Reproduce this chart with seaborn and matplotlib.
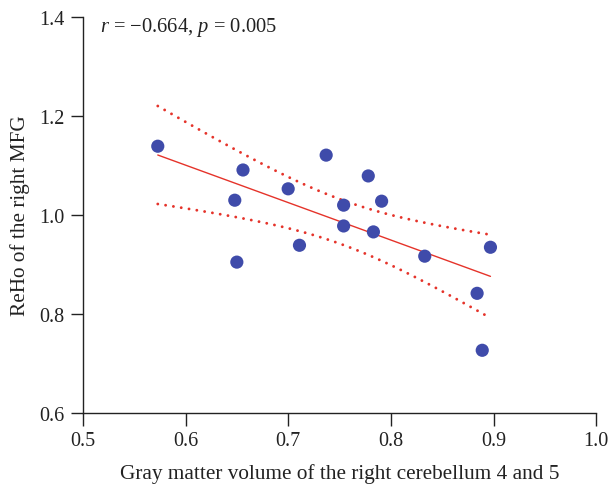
import numpy as np
import pandas as pd
import matplotlib
matplotlib.use("Agg")
import matplotlib.pyplot as plt
import seaborn as sns

# values
gmv = [0.573, 0.656, 0.648, 0.650, 0.700, 0.711, 0.737, 0.754,
       0.754, 0.778, 0.783, 0.791, 0.833, 0.897, 0.884, 0.889]
reho = [1.139, 1.091, 1.030, 0.905, 1.053, 0.939, 1.121, 1.020,
        0.978, 1.079, 0.966, 1.028, 0.917, 0.935, 0.842, 0.727]
x_ticks = [0.5, 0.6, 0.7, 0.8, 0.9, 1.0]
y_ticks = [0.6, 0.8, 1.0, 1.2, 1.4]
stat_text = r"$r$ = $-$0.664, $p$ = 0.005"

df = pd.DataFrame({"gmv": gmv, "reho": reho})

sns.set_theme(style="ticks")
plt.rcParams["font.family"] = ["Liberation Serif", "DejaVu Serif"]
plt.rcParams["mathtext.fontset"] = "custom"
plt.rcParams["mathtext.rm"] = "Liberation Serif"
plt.rcParams["mathtext.it"] = "Liberation Serif:italic"

point_col = "#3F4BAA"
line_col = "#E5332A"

fig = plt.figure(figsize=(6.09, 4.85), dpi=100)
ax = fig.add_axes([0.136, 0.146, 0.843, 0.817])

sns.regplot(data=df, x="gmv", y="reho", ci=None, ax=ax,
            scatter_kws=dict(s=90, color=point_col, edgecolor="none", alpha=1, zorder=3),
            line_kws=dict(color=line_col, lw=1.0))

# 95% confidence band for the fitted mean
x = np.array(gmv)
y = np.array(reho)
n = len(x)
b, a = np.polyfit(x, y, 1)
resid = y - (a + b * x)
s = np.sqrt(np.sum(resid ** 2) / (n - 2))
t_crit = 2.145  # t(0.975, df=14)
xs = np.linspace(x.min(), x.max(), 100)
se = s * np.sqrt(1 / n + (xs - x.mean()) ** 2 / np.sum((x - x.mean()) ** 2))
fit = a + b * xs
for band in (fit + t_crit * se, fit - t_crit * se):
    ax.plot(xs, band, color=line_col, lw=2.1, linestyle=(0, (0.01, 2.7)),
            dash_capstyle="round")

ax.set_xlim(0.5, 1.0)
ax.set_ylim(0.6, 1.4)
ax.set_xticks(x_ticks)
ax.set_xticklabels([f"{v:.1f}" for v in x_ticks])
ax.set_yticks(y_ticks)
ax.set_yticklabels([f"{v:.1f}" for v in y_ticks])
ax.tick_params(axis="both", labelsize=14.5, length=9, width=1, color="#222222",
               labelcolor="#222222", direction="out", pad=4)
for sp in ("left", "bottom"):
    ax.spines[sp].set_color("#222222")
    ax.spines[sp].set_linewidth(1)
sns.despine(ax=ax)

ax.set_xlabel("Gray matter volume of the right cerebellum 4 and 5",
              fontsize=15.3, color="#222222", labelpad=9)
ax.set_ylabel("ReHo of the right MFG", fontsize=15.3, color="#222222", labelpad=7)

ax.text(0.517, 1.38, stat_text, fontsize=14.8, color="#222222", va="center")

fig.savefig("out.png", dpi=100)
